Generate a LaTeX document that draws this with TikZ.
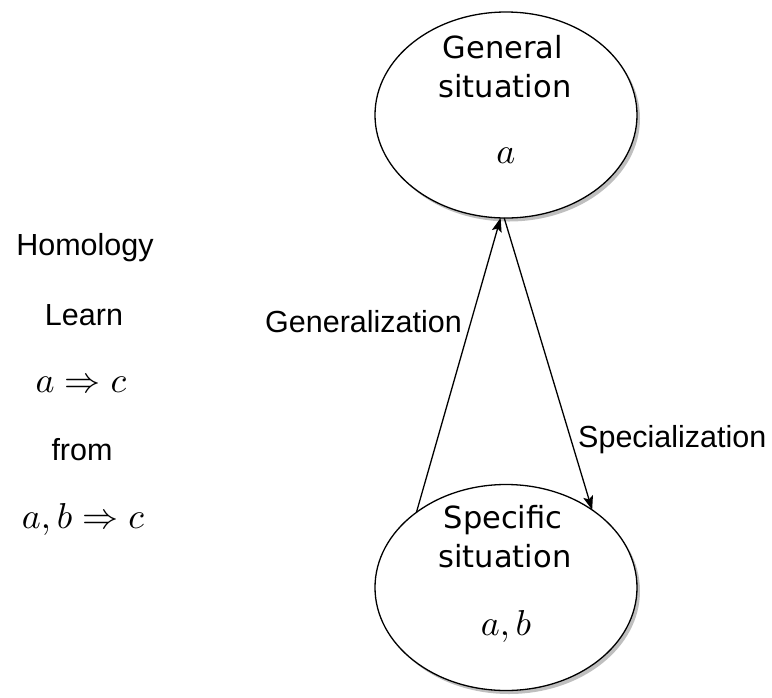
\documentclass[tikz,border=0pt]{standalone}
\usepackage[no-math]{fontspec}
\setmainfont{Liberation Sans}
\newfontfamily\dvfont{DejaVu Sans}
\usetikzlibrary{shapes.geometric,arrows.meta,shadows}
\begin{document}
\begin{tikzpicture}[x=1pt,y=-1pt,
  situation/.style={ellipse,draw=black,line width=1.3pt,fill=white,
    minimum width=262pt,minimum height=206pt,inner sep=0pt,outer sep=0pt,
    drop shadow={shadow xshift=3pt,shadow yshift=-3.5pt,fill=black!50,opacity=0.5}},
  etext/.style={anchor=base,inner sep=0pt,font=\dvfont\fontsize{30.5}{36}\selectfont},
  mtext/.style={anchor=base,inner sep=0pt,scale=3.6},
  ltext/.style={anchor=base,inner sep=0pt,font=\fontsize{30.5}{36}\selectfont},
  conn/.style={line width=1.3pt,-{Stealth[length=14pt,width=10pt,inset=3pt]}}]
\useasboundingbox (0,0) rectangle (772,697);
% ellipses
\node[situation] (top) at (506,115) {};
\node[situation] (bot) at (506,587.5) {};
% ellipse texts
\node[etext] (t1) at (503,58) {General};
\node[etext] (t2) at (505,97) {situation};
\node[mtext] (t3) at (506,163) {$a$};
\node[etext] (b1) at (503,528) {Specific};
\node[etext] (b2) at (505,567) {situation};
\node[mtext] (b3) at (506,635) {$a,b$};
% connectors
\draw[conn] (bot.140) -- (top.267);
\draw[conn] (top.269.5) -- (bot.42);
\node[ltext,anchor=base west] (gen) at (265,332) {Generalization};
\node[ltext,anchor=base west] (spec) at (578,447) {Specialization};
% left texts
\node[ltext] (h) at (85,255) {Homology};
\node[ltext] (l) at (84,325) {Learn};
\node[mtext] (m1) at (81,392) {$a\Rightarrow c$};
\node[ltext] (f) at (82,460) {from};
\node[mtext] (m2) at (83,528) {$a,b\Rightarrow c$};
\end{tikzpicture}
\end{document}
